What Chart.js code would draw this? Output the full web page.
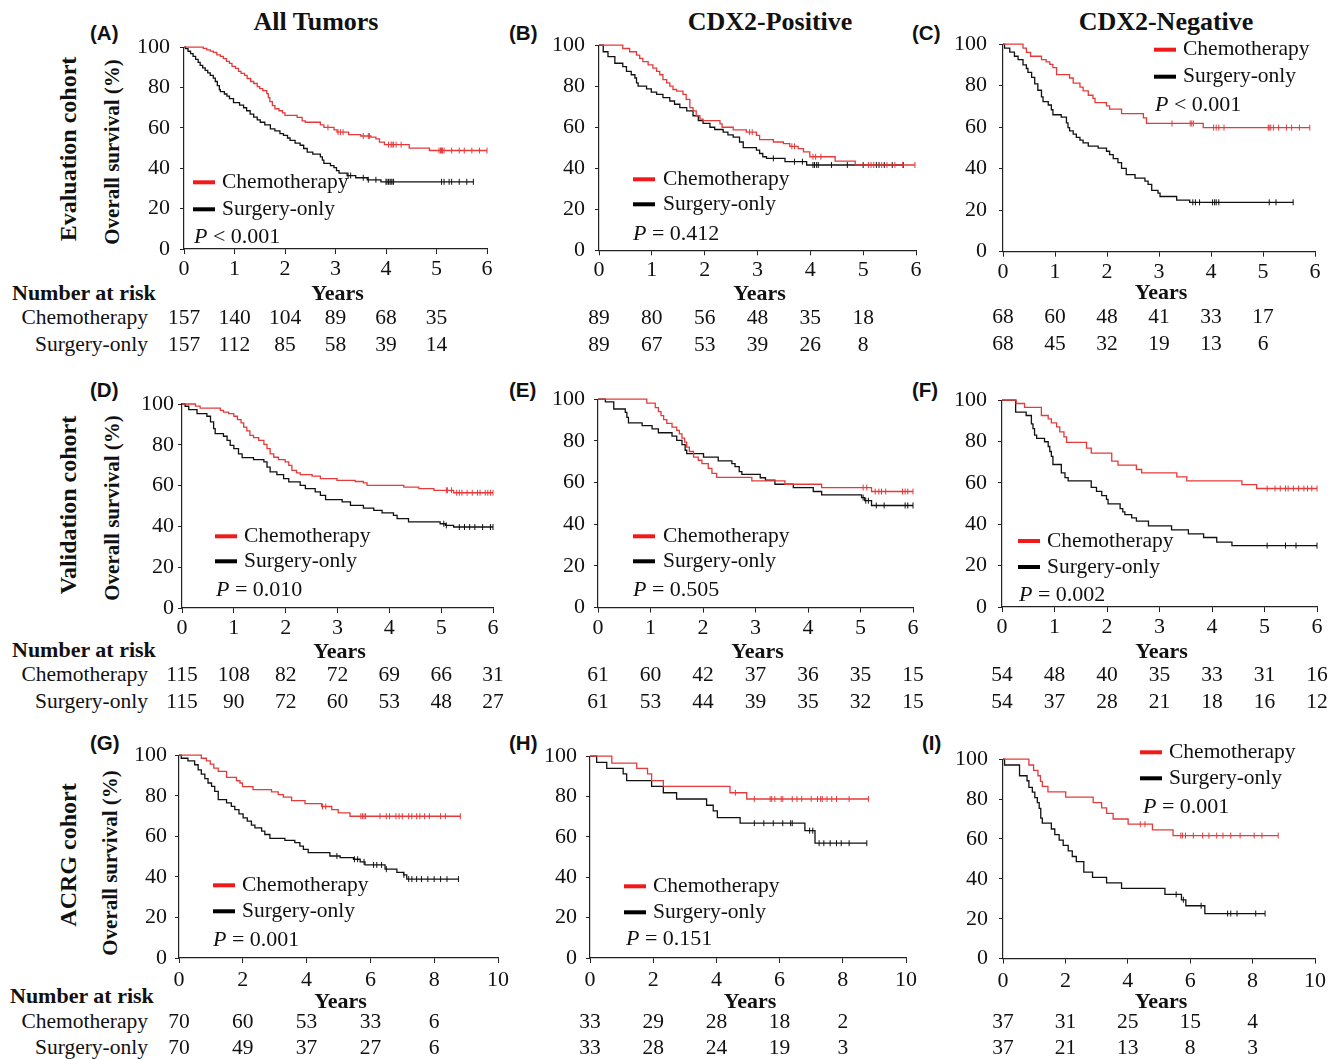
<!DOCTYPE html>
<html><head><meta charset="utf-8">
<script src="https://cdn.jsdelivr.net/npm/chart.js@4.4.1/dist/chart.umd.min.js"></script>
<style>
html,body{margin:0;padding:0;background:#fff;width:1343px;height:1059px;overflow:hidden;position:relative;}
.t{position:absolute;white-space:nowrap;line-height:1;color:#111;font-family:"Liberation Serif","Times New Roman",serif;}
.c{transform:translate(-50%,-50%);}
.l{transform:translate(0,-50%);}
.r{transform:translate(-100%,-50%);}
.v{transform:translate(-50%,-50%) rotate(-90deg);}
.b{font-weight:bold;}
.let{font-family:"Liberation Sans",Arial,sans-serif;font-weight:bold;font-size:20.5px;}
canvas{position:absolute;}
</style></head><body>
<script>
// ---------------- DATA ----------------
const yTicks = [0, 20, 40, 60, 80, 100];
const xTicks6 = [0, 1, 2, 3, 4, 5, 6];
const xTicks10 = [0, 2, 4, 6, 8, 10];
const riskTimes6 = [0, 1, 2, 3, 4, 5, 6];
const riskTimes8 = [0, 2, 4, 6, 8];
const seriesNames = ['Chemotherapy', 'Surgery-only'];
const colTitles = ['All Tumors', 'CDX2-Positive', 'CDX2-Negative'];
const rowTitles = ['Evaluation cohort', 'Validation cohort', 'ACRG cohort'];
const panelLetters = ['(A)', '(B)', '(C)', '(D)', '(E)', '(F)', '(G)', '(H)', '(I)'];
const pSymbols = ['<', '=', '<', '=', '=', '=', '=', '=', '='];
const pNumbers = ['0.001', '0.412', '0.001', '0.010', '0.505', '0.002', '0.001', '0.151', '0.001'];

// Panel A
const aChemo = [[0,100],[0.38,99.4],[0.45,98.7],[0.52,98.1],[0.58,97.4],[0.65,96.2],[0.72,95.5],[0.78,94.3],[0.84,93],[0.9,92],[0.95,90.5],[1.02,89.5],[1.08,88],[1.13,87],[1.2,86],[1.25,84.5],[1.32,83],[1.38,82],[1.45,80.5],[1.5,79.5],[1.56,78.5],[1.64,77],[1.67,75],[1.7,73],[1.75,71],[1.8,69.5],[1.88,68.5],[1.95,67.5],[2.0,66.2],[2.24,65.2],[2.34,63.5],[2.4,62.8],[2.7,61.5],[2.77,60.3],[2.97,59],[3.03,57.9],[3.26,56.7],[3.5,56],[3.7,55.4],[3.8,54.6],[3.87,53],[3.97,51.7],[4.46,50],[4.86,48.8],[6,48.8]];
const aChemoCens = [2.85,3.05,3.1,3.15,3.55,3.65,3.67,4.05,4.1,4.12,4.15,4.2,4.3,5.05,5.08,5.1,5.12,5.15,5.3,5.45,5.55,5.7,5.85,6.0];
const aSurg = [[0,100],[0.03,99.3],[0.08,98],[0.13,96.8],[0.18,95.5],[0.23,94],[0.28,92.5],[0.32,91],[0.37,89.8],[0.42,88.5],[0.47,87.3],[0.52,86],[0.58,84.7],[0.62,83],[0.66,81],[0.7,79],[0.72,78],[0.8,76.8],[0.85,75.8],[0.9,74.5],[0.98,72.5],[1.1,71.3],[1.18,70],[1.24,68.5],[1.31,66.8],[1.38,65.3],[1.45,64],[1.51,62.8],[1.6,61.5],[1.71,59.5],[1.8,58.5],[1.9,57.2],[1.97,56.3],[2.05,55],[2.1,53.8],[2.2,52.5],[2.3,51.4],[2.37,49.8],[2.44,48],[2.55,47],[2.7,45.7],[2.74,44],[2.77,42.4],[2.9,41.3],[2.97,40.3],[3.02,38.8],[3.07,37.6],[3.23,36.4],[3.4,35.3],[3.63,34.3],[3.9,33.3],[5.73,33.3]];
const aSurgCens = [3.25,3.3,3.55,3.65,3.8,4.0,4.02,4.05,4.08,4.1,4.12,4.15,5.1,5.15,5.25,5.3,5.45,5.6,5.73];
const aRiskChemo = [157,140,104,89,68,35];
const aRiskSurg = [157,112,85,58,39,14];

// Panel B
const bChemo = [[0,100],[0.45,98.4],[0.58,96.8],[0.71,95.2],[0.77,93.6],[0.83,92],[0.93,90.4],[1.02,88.8],[1.09,87.2],[1.15,85.6],[1.21,83.2],[1.28,81.6],[1.34,80],[1.4,78.4],[1.47,77.6],[1.59,76],[1.65,73.6],[1.72,69.6],[1.78,68],[1.84,65.6],[1.91,64],[1.97,63.2],[2.29,61.6],[2.33,60],[2.54,58.7],[2.79,57.6],[2.98,56],[3.04,54],[3.3,52.8],[3.49,52],[3.61,50.7],[3.77,49.6],[3.87,48],[3.99,45.6],[4.47,43.5],[4.85,41.6],[5.98,41.6]];
const bChemoCens = [2.85,2.9,3.65,3.7,4.05,4.1,4.2,5.1,5.15,5.2,5.35,5.45,5.6,5.75,5.98];
const bSurg = [[0,100],[0.08,96.8],[0.17,94.4],[0.3,91.2],[0.45,89.6],[0.52,87.2],[0.61,85.6],[0.68,84],[0.71,81.6],[0.74,80],[0.9,78.7],[0.99,77.1],[1.09,76],[1.21,74.4],[1.34,72.8],[1.43,71.2],[1.53,69.6],[1.66,68],[1.78,65.6],[1.88,63.2],[1.97,61.9],[2.1,60],[2.19,58.9],[2.35,57.6],[2.44,56.3],[2.54,55.2],[2.66,52.8],[2.73,50.1],[2.98,48.8],[3.04,47.2],[3.1,45.6],[3.17,44.8],[3.52,43.2],[3.93,41.6],[5.76,41.6]];
const bSurgCens = [3.3,3.7,3.85,4.05,4.08,4.12,4.15,4.4,4.7,5.0,5.25,5.3,5.4,5.55,5.76];
const bRiskChemo = [89,80,56,48,35,18];
const bRiskSurg = [89,67,53,39,26,8];

// Panel C
const cChemo = [[0,100],[0.385,98.1],[0.45,96.1],[0.53,94.2],[0.74,92.6],[0.83,91.5],[0.9,90.3],[0.96,88.7],[1.03,85.3],[1.28,83.7],[1.35,81.2],[1.48,79.3],[1.54,77.5],[1.64,75.4],[1.73,73.9],[1.77,71.8],[1.99,70.3],[2.05,68.7],[2.28,66.5],[2.7,64.5],[2.76,61.8],[3.85,59.8],[5.9,59.8]];
const cChemoCens = [3.25,3.6,3.63,3.66,4.05,4.1,4.15,4.25,5.1,5.12,5.15,5.2,5.3,5.45,5.55,5.7,5.9];
const cSurg = [[0,100],[0.03,98.1],[0.13,96.2],[0.22,94.2],[0.29,92.6],[0.385,90],[0.45,88.3],[0.48,86.4],[0.55,84],[0.61,80.9],[0.67,77.8],[0.74,74.6],[0.77,72.3],[0.87,70.7],[0.93,68.4],[0.96,66],[1.12,64.9],[1.22,62.1],[1.25,59.8],[1.28,58.2],[1.35,56.7],[1.41,55.1],[1.48,53.8],[1.54,52.4],[1.64,50.9],[1.83,49.9],[1.99,48.4],[2.05,46.8],[2.12,44.9],[2.21,42.9],[2.28,40.2],[2.37,37.1],[2.54,35.5],[2.73,34],[2.79,32.4],[2.86,29.6],[2.98,28.2],[3.02,26.6],[3.34,24.9],[3.59,23.8],[5.58,23.8]];
const cSurgCens = [3.65,3.7,3.78,4.03,4.07,4.1,4.15,5.12,5.25,5.58];
const cRiskChemo = [68,60,48,41,33,17];
const cRiskSurg = [68,45,32,19,13,6];

// Panel D
const dChemo = [[0,100],[0.26,99],[0.35,98],[0.74,96.9],[0.8,96],[0.9,95.3],[1.0,94],[1.07,92.3],[1.14,90.7],[1.19,88.7],[1.25,86.8],[1.31,84.6],[1.38,83.5],[1.48,82.2],[1.58,80.2],[1.64,78.1],[1.7,75.6],[1.77,73.9],[1.86,72.7],[1.99,71.6],[2.06,69.9],[2.12,67.5],[2.21,66.2],[2.28,65.4],[2.51,64.6],[2.67,63.4],[2.99,62.6],[3.34,62],[3.5,61.3],[3.57,60.1],[4.28,59.3],[4.57,58.5],[4.86,57.7],[5.24,56.5],[6,56.5]];
const dChemoCens = [5.1,5.12,5.2,5.3,5.35,5.4,5.5,5.6,5.7,5.75,5.85,5.9,5.95,6.0];
const dSurg = [[0,100],[0.06,98.9],[0.13,97.2],[0.29,95.3],[0.48,94],[0.55,91.2],[0.61,87.9],[0.64,85.5],[0.8,84.2],[0.87,82.2],[0.93,79.7],[1.0,78.1],[1.09,75.6],[1.16,73.7],[1.38,72.7],[1.58,71.6],[1.64,69.1],[1.7,66.7],[1.83,65.4],[1.96,63.4],[2.06,61.8],[2.28,60.1],[2.38,58.5],[2.57,56.9],[2.67,55.2],[2.77,53.1],[3.09,52],[3.25,50.3],[3.5,49],[3.7,47.9],[3.86,46.6],[4.08,45.4],[4.15,43.8],[4.37,42.2],[4.98,41.3],[5.08,40.5],[5.24,39.7],[6,39.7]];
const dSurgCens = [5.05,5.1,5.35,5.45,5.55,5.65,5.8,5.95,6.0];
const dRiskChemo = [115,108,82,72,69,66,31];
const dRiskSurg = [115,90,72,60,53,48,27];

// Panel E
const eChemo = [[0,100],[0.93,98.1],[1.09,96],[1.15,94],[1.2,92.1],[1.25,90.2],[1.31,88.4],[1.41,86.6],[1.5,85],[1.55,83.4],[1.6,81.3],[1.65,79.4],[1.69,77],[1.74,74.9],[1.82,72.2],[1.91,70.7],[1.98,69.1],[2.1,66.8],[2.17,64.4],[2.26,62.5],[2.93,60.8],[3.56,59.2],[4.26,57.6],[5.21,55.7],[6,55.7]];
const eChemoCens = [5.05,5.12,5.28,5.35,5.4,5.48,5.8,5.85,5.9,6.0];
const eSurg = [[0,100],[0.14,98.7],[0.3,95.3],[0.52,93.7],[0.55,91.3],[0.58,88.6],[0.84,87.3],[1.03,85.8],[1.15,83.9],[1.41,82.3],[1.5,80.2],[1.6,78.2],[1.66,75.5],[1.69,73.9],[2.01,72.2],[2.29,70.4],[2.55,69.1],[2.61,67.6],[2.69,65.2],[2.74,63.9],[3.09,62.3],[3.19,61.2],[3.37,59.2],[3.72,57.6],[4.1,55.7],[4.26,54.1],[5.02,52.8],[5.08,51.3],[5.21,49],[6,49]];
const eSurgCens = [5.05,5.1,5.15,5.3,5.45,5.85,5.9,6.0];
const eRiskChemo = [61,60,42,37,36,35,15];
const eRiskSurg = [61,53,44,39,35,32,15];

// Panel F
const fChemo = [[0,100],[0.27,98.4],[0.43,96.5],[0.75,92.6],[0.88,91],[0.94,89],[1.04,87.1],[1.1,84.7],[1.18,82.3],[1.23,79.6],[1.61,76.8],[1.7,74.4],[2.09,70.5],[2.21,68.6],[2.56,66.5],[2.66,64.9],[3.33,62.9],[3.52,61],[4.57,59.2],[4.85,57.3],[6,57.3]];
const fChemoCens = [5.05,5.2,5.3,5.4,5.45,5.55,5.65,5.75,5.82,5.9,6.0];
const fSurg = [[0,100],[0.26,94.2],[0.46,92.6],[0.56,88.6],[0.59,86.3],[0.62,83.1],[0.66,81.5],[0.81,79.9],[0.88,77.6],[0.91,75.2],[0.94,72.8],[0.97,68.9],[1.13,64.9],[1.2,62.6],[1.26,61],[1.7,57.8],[1.8,55.9],[1.9,53.9],[1.99,52],[2.02,49.9],[2.25,47.6],[2.3,46],[2.34,44.7],[2.47,43.1],[2.56,41.5],[2.79,39.2],[3.23,37.3],[3.55,35.4],[3.84,33.6],[4.09,31.4],[4.38,29.7],[6,29.7]];
const fSurgCens = [5.05,5.4,5.6,6.0];
const fRiskChemo = [54,48,40,35,33,31,16];
const fRiskSurg = [54,37,28,21,18,16,12];

// Panel G
const gChemo = [[0,100],[0.7,98.5],[0.86,97.2],[0.98,95.6],[1.09,93.6],[1.23,92],[1.49,89.1],[1.8,87.4],[1.91,86.3],[1.99,84.5],[2.32,83],[2.9,81.9],[3.11,80.6],[3.27,79.3],[3.53,77.6],[3.95,76.1],[4.47,74.7],[4.79,73.2],[4.99,71.6],[5.36,69.9],[8.82,69.9]];
const gChemoCens = [4.5,4.6,5.7,5.75,5.8,5.85,6.3,6.5,6.6,6.8,6.9,7.0,7.2,7.3,7.45,7.55,7.7,7.85,8.2,8.35,8.82];
const gSurg = [[0,100],[0.07,98.5],[0.28,97.2],[0.49,95.3],[0.6,92.8],[0.7,90.7],[0.81,88.4],[0.91,86.3],[1.02,84.6],[1.12,82.2],[1.23,78.1],[1.49,76.5],[1.64,74.8],[1.75,73.2],[1.88,71.1],[2.01,69.1],[2.14,67.5],[2.27,65.5],[2.38,64.2],[2.59,62.6],[2.69,60.9],[2.85,59],[3.32,58],[3.63,56.9],[3.79,55.2],[3.9,53.6],[4.05,52],[4.73,50.3],[5.05,49.5],[5.47,48.7],[5.68,47.4],[5.83,45.9],[6.46,43.8],[6.83,42.2],[7.04,41],[7.14,38.9],[8.76,38.9]];
const gSurgCens = [4.95,5.5,5.6,5.8,6.1,6.2,6.35,6.5,7.05,7.2,7.3,7.45,7.6,7.8,8.0,8.2,8.4,8.76];
const gRiskChemo = [70,60,53,33,6];
const gRiskSurg = [70,49,37,27,6];

// Panel H
const hChemo = [[0,100],[0.69,96.6],[1.48,94],[1.82,91.2],[1.95,87.9],[2.32,85],[4.43,81.9],[4.96,78.8],[8.81,78.8]];
const hChemoCens = [4.6,5.2,5.7,5.75,5.85,6.05,6.1,6.4,6.55,6.7,7.0,7.2,7.3,7.35,7.5,7.65,7.8,8.2,8.81];
const hSurg = [[0,100],[0.21,96.9],[0.53,94],[1.05,91.2],[1.16,87.9],[1.95,85],[2.32,81.9],[2.74,78.8],[3.69,75.7],[3.9,72.9],[4.03,69.6],[4.75,66.8],[6.8,63.1],[7.12,56.9],[8.76,56.9]];
const hSurgCens = [5.2,5.5,5.8,6.1,6.35,6.4,6.95,7.05,7.25,7.4,7.6,7.8,7.95,8.2,8.76];
const hRiskChemo = [33,29,28,18,2];
const hRiskSurg = [33,28,24,19,3];

// Panel I
const iChemo = [[0,100],[0.83,97.1],[0.98,94.4],[1.12,91.7],[1.2,88.9],[1.26,86.4],[1.44,83.6],[2.01,81],[2.89,78.2],[3.16,75.6],[3.32,72.8],[3.53,70],[4.01,67.4],[4.79,64.6],[5.45,61.7],[8.82,61.7]];
const iChemoCens = [4.4,4.55,5.7,5.75,5.85,6.1,6.4,6.6,6.85,7.05,7.3,7.6,8.05,8.3,8.82];
const iSurg = [[0,100],[0.05,97.1],[0.53,91.7],[0.77,89.2],[0.83,85.9],[0.94,83.5],[1.02,80.7],[1.1,78.2],[1.16,75.3],[1.21,70.4],[1.26,67.9],[1.55,65],[1.66,62.2],[1.8,59.4],[1.93,56.8],[2.09,54],[2.22,51.2],[2.35,48.6],[2.59,43.4],[2.87,40.7],[3.32,38],[3.8,35.2],[5.19,32.2],[5.72,29.5],[5.86,26.5],[6.47,22.6],[8.4,22.6]];
const iSurgCens = [5.55,5.78,6.35,7.2,7.3,7.5,8.1,8.4];
const iRiskChemo = [37,31,25,15,4];
const iRiskSurg = [37,21,13,8,3];

// ---------------- LAYOUT / STYLE ----------------
const SERIF = '"Liberation Serif", "Times New Roman", serif';
const RED = '#e63a3a', RED_LEG = '#f01a1a', BLACK = '#111';
const rowText = [
  {years: 294, risk: [318, 345], nar: 293, narX: 12},
  {years: 652, risk: [675, 702], nar: 650, narX: 12},
  {years: 1002, risk: [1022, 1048], nar: 996, narX: 10}
];
const panels = [
  {row:0, L:184, R:487, T:43.7, B:248.7, xMax:6, xt:xTicks6, rt:riskTimes6, chemo:aChemo, cc:aChemoCens, surg:aSurg, sc:aSurgCens, rc:aRiskChemo, rs:aRiskSurg, leg:[193,182,209,222], p:[194,237], yPad:10, letter:[90,33]},
  {row:0, L:599, R:916, T:41.7, B:250, xMax:6, xt:xTicks6, rt:riskTimes6, chemo:bChemo, cc:bChemoCens, surg:bSurg, sc:bSurgCens, rc:bRiskChemo, rs:bRiskSurg, leg:[633,179,204,663], p:[633,234], yPad:10, letter:[509,33]},
  {row:0, L:1003, R:1315, T:39.3, B:252, xMax:6, xt:xTicks6, rt:riskTimes6, chemo:cChemo, cc:cChemoCens, surg:cSurg, sc:cSurgCens, rc:cRiskChemo, rs:cRiskSurg, leg:[1154,50,77,1183], p:[1155,106], yPad:12, letter:[912,33]},
  {row:1, L:182, R:493, T:403.7, B:607.7, xMax:6, xt:xTicks6, rt:riskTimes6, chemo:dChemo, cc:dChemoCens, surg:dSurg, sc:dSurgCens, rc:dRiskChemo, rs:dRiskSurg, leg:[215,536,561,244], p:[216,590], yPad:4, letter:[90,390]},
  {row:1, L:598, R:913, T:396.7, B:607.3, xMax:6, xt:xTicks6, rt:riskTimes6, chemo:eChemo, cc:eChemoCens, surg:eSurg, sc:eSurgCens, rc:eRiskChemo, rs:eRiskSurg, leg:[633,536,561,663], p:[633,590], yPad:9, letter:[509,390]},
  {row:1, L:1002, R:1317, T:396, B:607, xMax:6, xt:xTicks6, rt:riskTimes6, chemo:fChemo, cc:fChemoCens, surg:fSurg, sc:fSurgCens, rc:fRiskChemo, rs:fRiskSurg, leg:[1018,541,567,1047], p:[1019,595], yPad:11, letter:[912,390]},
  {row:2, L:179, R:498, T:753.7, B:957.7, xMax:10, xt:xTicks10, rt:riskTimes8, chemo:gChemo, cc:gChemoCens, surg:gSurg, sc:gSurgCens, rc:gRiskChemo, rs:gRiskSurg, leg:[213,885,911,242], p:[213,940], yPad:8, letter:[90,743]},
  {row:2, L:590, R:906, T:753.7, B:957.7, xMax:10, xt:xTicks10, rt:riskTimes8, chemo:hChemo, cc:hChemoCens, surg:hSurg, sc:hSurgCens, rc:hRiskChemo, rs:hRiskSurg, leg:[624,886,912,653], p:[626,939], yPad:9, letter:[509,743]},
  {row:2, L:1003, R:1315, T:754.7, B:958.3, xMax:10, xt:xTicks10, rt:riskTimes8, chemo:iChemo, cc:iChemoCens, surg:iSurg, sc:iSurgCens, rc:iRiskChemo, rs:iRiskSurg, leg:[1140,752,778,1169], p:[1143,807], yPad:11, letter:[922,743]}
];

// ---------------- HTML TEXT ----------------
function addText(txt, x, y, cls, size) {
  const d = document.createElement('div');
  d.className = 't ' + cls;
  d.textContent = txt;
  d.style.left = x + 'px'; d.style.top = y + 'px';
  if (size) d.style.fontSize = size + 'px';
  document.body.appendChild(d);
}
[[316,22],[770,22],[1166,22]].forEach((p,i)=>addText(colTitles[i], p[0], p[1], 'c b', 26));
[[68,149],[68,505],[68,855]].forEach((p,i)=>addText(rowTitles[i], p[0], p[1], 'v b', 24));
[[112,152],[112,508],[110,863]].forEach(p=>addText('Overall survival (%)', p[0], p[1], 'v b', 21));
rowText.forEach(rt=>{
  addText('Number at risk', rt.narX, rt.nar, 'l b', 22);
  addText(seriesNames[0], 148, rt.risk[0], 'r', 21.5);
  addText(seriesNames[1], 148, rt.risk[1], 'r', 21.5);
});
panels.forEach((p,i)=>addText(panelLetters[i], p.letter[0], p.letter[1], 'l let'));

// ---------------- CHARTS ----------------
function survAt(steps, t) {
  let s = steps[0][1];
  for (const st of steps) { if (st[0] <= t + 1e-9) s = st[1]; else break; }
  return s;
}
const kmText = {
  id: 'kmText',
  afterDraw(chart, args, o) {
    const ctx = chart.ctx, xs = chart.scales.x, ca = chart.chartArea;
    const ox = o.ox, oy = o.oy;
    ctx.save();
    ctx.fillStyle = BLACK; ctx.textBaseline = 'middle';
    ctx.textAlign = 'center';
    ctx.font = 'bold 22px ' + SERIF;
    ctx.fillText('Years', (ca.left + ca.right) / 2 + 2, o.rowY.years - oy);
    ctx.font = '21.5px ' + SERIF;
    [o.rc, o.rs].forEach((row, ri) => row.forEach((n, k) => {
      ctx.fillText(String(n), xs.getPixelForValue(o.rt[k]), o.rowY.risk[ri] - oy);
    }));
    // legend
    const lg = o.leg;
    ctx.fillStyle = RED_LEG; ctx.fillRect(lg[0] - ox, lg[1] - oy - 2, 22, 4);
    ctx.fillStyle = '#000'; ctx.fillRect(lg[0] - ox, lg[2] - oy - 2, 22, 4);
    ctx.fillStyle = BLACK; ctx.textAlign = 'left';
    ctx.fillText(seriesNames[0], lg[3] - ox, lg[1] - oy);
    ctx.fillText(seriesNames[1], lg[3] - ox, lg[2] - oy);
    // P value
    ctx.font = 'italic 22px ' + SERIF;
    ctx.fillText('P', o.p[0] - ox, o.p[1] - oy);
    const w = ctx.measureText('P').width;
    ctx.font = '22px ' + SERIF;
    ctx.fillText(' ' + o.sym + ' ' + o.num, o.p[0] - ox + w, o.p[1] - oy);
    ctx.restore();
  }
};
Chart.register(kmText);

function kmSets(steps, cens, color) {
  return [
    {data: steps.map(s => ({x: s[0], y: s[1]})), stepped: 'before', borderColor: color, borderWidth: 1.3, pointRadius: 0, fill: false, clip: false},
    {data: cens.map(t => ({x: t, y: survAt(steps, t)})), showLine: false, pointStyle: 'line', rotation: 90, pointRadius: 3, borderColor: color, backgroundColor: color, borderWidth: 1, clip: false}
  ];
}

panels.forEach((p, i) => {
  const cv = document.createElement('canvas');
  const left = p.L - 75, top = p.T - 20;
  const W = p.R - p.L + 100;
  const H = p.row === 2 ? Math.round(1059 - top) : Math.round(p.B - p.T + 20 + 110);
  cv.width = W; cv.height = H;
  cv.style.left = left + 'px'; cv.style.top = top + 'px';
  cv.style.width = W + 'px'; cv.style.height = H + 'px';
  document.body.appendChild(cv);
  const padBottom = H - 30 - 20 - (p.B - p.T);
  const xPad = p.row === 2 ? 4 : 2;
  new Chart(cv, {
    type: 'line',
    data: {datasets: [...kmSets(p.chemo, p.cc, RED), ...kmSets(p.surg, p.sc, BLACK)]},
    options: {
      responsive: false, animation: false, devicePixelRatio: 1,
      layout: {padding: {top: 20, right: 25, bottom: padBottom, left: 0}},
      plugins: {
        legend: {display: false}, tooltip: {enabled: false},
        kmText: {ox: left, oy: top, rowY: rowText[p.row], rt: p.rt, rc: p.rc, rs: p.rs, leg: p.leg, p: p.p, sym: pSymbols[i], num: pNumbers[i]}
      },
      scales: {
        x: {
          type: 'linear', min: 0, max: p.xMax,
          afterBuildTicks: s => { s.ticks = p.xt.map(v => ({value: v})); },
          afterFit: s => { s.height = 30; },
          grid: {drawOnChartArea: false, drawTicks: true, tickLength: 5, color: '#222', lineWidth: 1},
          border: {display: true, color: '#222', width: 1.2},
          ticks: {font: {family: SERIF, size: 22}, color: BLACK, padding: xPad, maxRotation: 0, autoSkip: false}
        },
        y: {
          type: 'linear', min: 0, max: 100,
          afterBuildTicks: s => { s.ticks = yTicks.map(v => ({value: v})); },
          afterFit: s => { s.width = 75; },
          grid: {drawOnChartArea: false, drawTicks: true, tickLength: 4, color: '#222', lineWidth: 1},
          border: {display: true, color: '#222', width: 1.2},
          ticks: {font: {family: SERIF, size: 22}, color: BLACK, padding: p.yPad, autoSkip: false}
        }
      }
    }
  });
});
</script>
</body></html>
